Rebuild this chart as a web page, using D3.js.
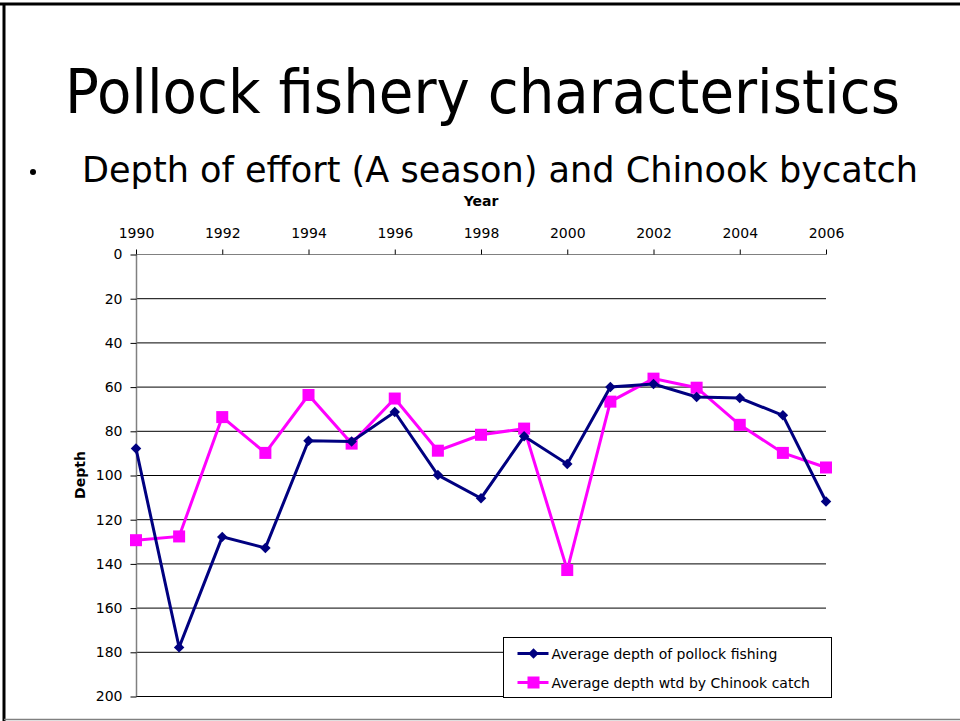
<!DOCTYPE html>
<html lang="en">
<head>
<meta charset="UTF-8">
<title>Pollock fishery characteristics</title>
<script src="https://d3js.org/d3.v7.min.js"></script>
<style>
  body { margin: 0; background: #fff; }
  svg { display: block; }
</style>
</head>
<body>
<div id="chart"></div>
<script>
  // data
  const years = d3.range(1990, 2007);
  const pollockDepth = [88, 178, 128, 133, 84.5, 84.8, 71.5, 100, 110.5, 82.5, 95, 60.2, 58.8, 64.7, 65.2, 73, 112];
  const chinookDepth = [129.5, 127.8, 73.8, 90, 63.8, 85.8, 65.4, 89, 81.8, 79, 143, 66.8, 56.4, 60.5, 77.3, 90, 96.6];
  const yearTicks = [1990, 1992, 1994, 1996, 1998, 2000, 2002, 2004, 2006];
  const depthTicks = [0, 20, 40, 60, 80, 100, 120, 140, 160, 180, 200];
  const seriesNames = ['Average depth of pollock fishing', 'Average depth wtd by Chinook catch'];

  const width = 960, height = 721;
  const plot = { left: 136, right: 826, top: 254, bottom: 696 };
  const chartFont = 'Tahoma, Verdana, "DejaVu Sans", sans-serif';
  const slideFont = '"Comic Sans MS", "DejaVu Sans", sans-serif';

  const svg = d3.select('#chart').append('svg')
    .attr('width', width)
    .attr('height', height);

  // slide frame
  svg.append('line').attr('x1', 0).attr('x2', width).attr('y1', 4).attr('y2', 4)
    .attr('stroke', '#000').attr('stroke-width', 3);
  svg.append('line').attr('x1', 4).attr('x2', 4).attr('y1', 3).attr('y2', height)
    .attr('stroke', '#000').attr('stroke-width', 3);
  svg.append('line').attr('x1', 4).attr('x2', width).attr('y1', 719.5).attr('y2', 719.5)
    .attr('stroke', '#808080').attr('stroke-width', 1.5);

  // titles
  svg.append('text')
    .attr('x', 65).attr('y', 113)
    .attr('textLength', 835).attr('lengthAdjust', 'spacingAndGlyphs')
    .style('font-family', slideFont).style('font-size', '60px')
    .text('Pollock fishery characteristics');

  svg.append('circle')
    .attr('cx', 33).attr('cy', 172).attr('r', 3)
    .attr('fill', '#000');

  svg.append('text')
    .attr('x', 82).attr('y', 182)
    .attr('textLength', 836).attr('lengthAdjust', 'spacingAndGlyphs')
    .style('font-family', slideFont).style('font-size', '36px')
    .text('Depth of effort (A season) and Chinook bycatch');

  const x = d3.scaleLinear().domain([1990, 2006]).range([plot.left, plot.right]);
  const y = d3.scaleLinear().domain([0, 200]).range([plot.top, plot.bottom]);

  // gridlines
  svg.append('g')
    .selectAll('line')
    .data(depthTicks.filter(d => d > 0))
    .join('line')
    .attr('x1', plot.left).attr('x2', plot.right)
    .attr('y1', d => y(d) + 0.5).attr('y2', d => y(d) + 0.5)
    .attr('stroke', '#000').attr('stroke-width', 1);

  // x axis on top
  const xAxis = svg.append('g')
    .attr('transform', `translate(0,${plot.top + 0.5})`)
    .call(d3.axisTop(x).tickValues(yearTicks).tickFormat(d3.format('d')).tickSize(5).tickPadding(12));
  xAxis.select('.domain').attr('stroke', '#808080').attr('d', `M${plot.left},0H${plot.right}`);
  xAxis.selectAll('.tick line').attr('stroke', '#000');
  xAxis.selectAll('text').style('font-family', chartFont).style('font-size', '14px').attr('fill', '#000');

  // y axis
  const yAxis = svg.append('g')
    .attr('transform', `translate(${plot.left + 0.5},0.5)`)
    .call(d3.axisLeft(y).tickValues(depthTicks).tickSize(6).tickPadding(8));
  yAxis.select('.domain').attr('stroke', '#808080').attr('stroke-width', 1.5).attr('d', `M0,${plot.top}V${plot.bottom}`);
  yAxis.selectAll('.tick line').attr('stroke', '#000');
  yAxis.selectAll('text').style('font-family', chartFont).style('font-size', '14px').attr('fill', '#000');

  // axis titles
  svg.append('text')
    .attr('x', 481).attr('y', 206)
    .attr('text-anchor', 'middle')
    .style('font-family', chartFont).style('font-size', '14px').style('font-weight', 'bold')
    .text('Year');

  svg.append('text')
    .attr('transform', `translate(85,${(plot.top + plot.bottom) / 2}) rotate(-90)`)
    .attr('text-anchor', 'middle')
    .style('font-family', chartFont).style('font-size', '14px').style('font-weight', 'bold')
    .text('Depth');

  const line = d3.line().x((d, i) => x(years[i])).y(d => y(d));

  // Chinook weighted series (drawn first, navy on top where they meet)
  svg.append('path')
    .datum(chinookDepth)
    .attr('d', line)
    .attr('fill', 'none').attr('stroke', '#ff00ff').attr('stroke-width', 3);

  svg.append('g')
    .selectAll('rect')
    .data(chinookDepth)
    .join('rect')
    .attr('x', (d, i) => x(years[i]) - 6)
    .attr('y', d => y(d) - 6)
    .attr('width', 12).attr('height', 12)
    .attr('fill', '#ff00ff');

  svg.append('path')
    .datum(pollockDepth)
    .attr('d', line)
    .attr('fill', 'none').attr('stroke', '#000080').attr('stroke-width', 3);

  const diamond = d3.symbol().type(d3.symbolDiamond2).size(70);
  svg.append('g')
    .selectAll('path')
    .data(pollockDepth)
    .join('path')
    .attr('transform', (d, i) => `translate(${x(years[i])},${y(d)})`)
    .attr('d', diamond)
    .attr('fill', '#000080');

  // legend
  const legend = svg.append('g').attr('transform', 'translate(503.5,637.5)');
  legend.append('rect')
    .attr('width', 328).attr('height', 60)
    .attr('fill', '#fff').attr('stroke', '#000').attr('stroke-width', 1);

  const legendColors = ['#000080', '#ff00ff'];
  seriesNames.forEach((name, i) => {
    const row = legend.append('g').attr('transform', `translate(0,${16 + i * 29})`);
    row.append('line')
      .attr('x1', 14).attr('x2', 45)
      .attr('stroke', legendColors[i]).attr('stroke-width', 3);
    if (i === 0) {
      row.append('path').attr('transform', 'translate(30,0)').attr('d', diamond).attr('fill', legendColors[i]);
    } else {
      row.append('rect').attr('x', 24).attr('y', -6).attr('width', 12).attr('height', 12).attr('fill', legendColors[i]);
    }
    row.append('text')
      .attr('x', 48).attr('y', 5)
      .style('font-family', chartFont).style('font-size', '14px').attr('fill', '#000')
      .text(name);
  });
</script>
</body>
</html>
